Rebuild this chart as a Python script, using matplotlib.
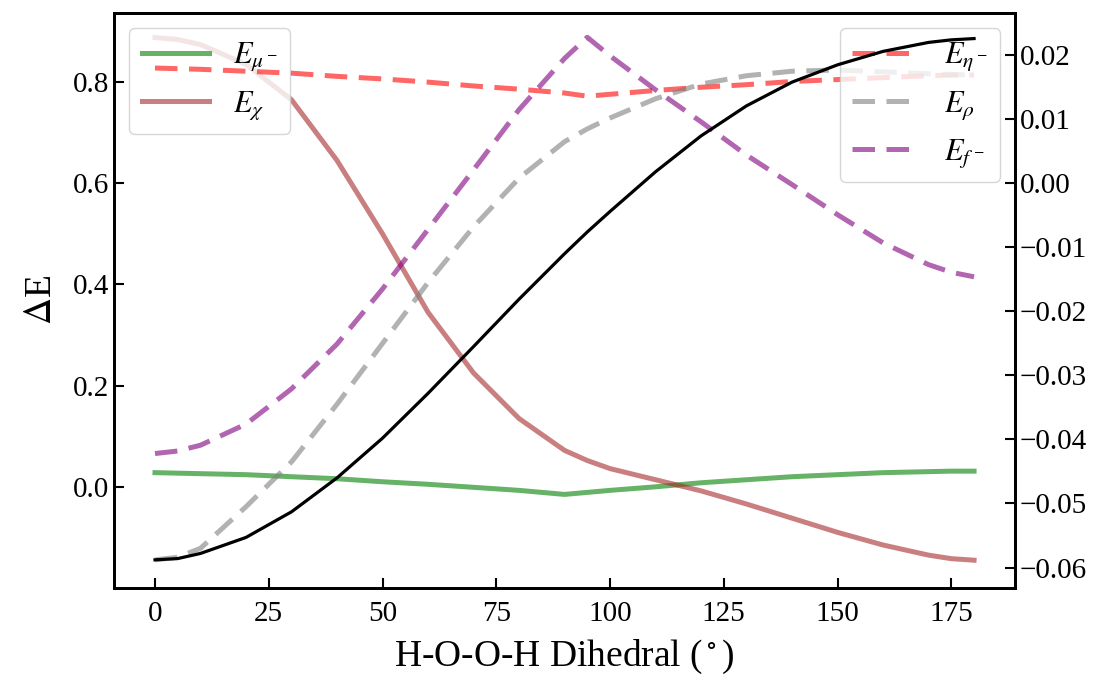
import matplotlib
matplotlib.use("Agg")
import matplotlib.pyplot as plt

plt.rcParams['font.family'] = ['Liberation Serif', 'DejaVu Serif']
plt.rcParams['mathtext.fontset'] = 'stix'

dihedral = [0, 5, 10, 20, 30, 40, 50, 60, 70, 80, 90, 95, 100, 110, 120, 130, 140, 150, 160, 170, 175, 180]

# left axis series
e_mu = [0.028, 0.027, 0.026, 0.024, 0.020, 0.016, 0.010, 0.005, -0.001, -0.007, -0.015, -0.011,
        -0.007, 0.000, 0.008, 0.014, 0.020, 0.024, 0.028, 0.030, 0.031, 0.031]
e_chi = [0.888, 0.884, 0.874, 0.835, 0.765, 0.645, 0.500, 0.345, 0.225, 0.135, 0.072, 0.052,
         0.036, 0.014, -0.008, -0.034, -0.062, -0.090, -0.115, -0.135, -0.142, -0.145]

# right axis series
e_eta = [0.0180, 0.0179, 0.0178, 0.0175, 0.0172, 0.0167, 0.0163, 0.0158, 0.0152, 0.0147, 0.0141, 0.0136,
         0.0139, 0.0145, 0.0150, 0.0154, 0.0159, 0.0162, 0.0165, 0.0168, 0.0169, 0.0169]
e_rho = [-0.0588, -0.0584, -0.0570, -0.0505, -0.0435, -0.0345, -0.0250, -0.0155, -0.0068, 0.0008, 0.0065, 0.0085,
         0.0102, 0.0132, 0.0155, 0.0168, 0.0175, 0.0177, 0.0174, 0.0171, 0.0170, 0.0169]
e_f = [-0.0422, -0.0418, -0.0409, -0.0376, -0.0321, -0.0251, -0.0165, -0.0072, 0.0021, 0.0115, 0.0195, 0.0228,
       0.0199, 0.0146, 0.0096, 0.0044, -0.0002, -0.0049, -0.0093, -0.0127, -0.0139, -0.0146]
total = [-0.0588, -0.0586, -0.0578, -0.0553, -0.0513, -0.0460, -0.0398, -0.0328, -0.0255, -0.0181, -0.0110, -0.0076,
         -0.0044, 0.0018, 0.0074, 0.0121, 0.0158, 0.0185, 0.0206, 0.0220, 0.0224, 0.0226]

fig = plt.figure(figsize=(11.04, 6.82), dpi=100)
ax1 = fig.add_axes([0.1033, 0.1378, 0.8161, 0.8432])
ax2 = ax1.twinx()

lw = 3.6
dash = (4.5, 2.3)
ax1.plot(dihedral, e_mu, color='green', alpha=0.6, lw=lw, label=r'$E_{\mu^-}$')
ax1.plot(dihedral, e_chi, color='brown', alpha=0.6, lw=lw, label=r'$E_{\chi}$')

ax2.plot(dihedral, e_eta, color='red', alpha=0.6, lw=lw, ls='--', dashes=dash, label=r'$E_{\eta^-}$')
ax2.plot(dihedral, e_rho, color='gray', alpha=0.6, lw=lw, ls='--', dashes=dash, label=r'$E_{\rho}$')
ax2.plot(dihedral, e_f, color='purple', alpha=0.6, lw=lw, ls='--', dashes=dash, label=r'$E_{f^-}$')
ax2.plot(dihedral, total, color='black', lw=2.3, zorder=6)

ax1.set_xlim(-9, 189)
ax1.set_ylim(-0.2, 0.9365)
ax2.set_ylim(-0.0632, 0.0266)

for ax in (ax1, ax2):
    ax.tick_params(direction='in', length=7, width=1.5, labelsize=21)
    for s in ax.spines.values():
        s.set_linewidth(2)
ax1.tick_params(axis='x', pad=9)
ax1.set_xticks([0, 25, 50, 75, 100, 125, 150, 175])
ax1.set_yticks([0.0, 0.2, 0.4, 0.6, 0.8])
ax2.set_yticks([-0.06, -0.05, -0.04, -0.03, -0.02, -0.01, 0.0, 0.01, 0.02])

ax1.set_xlabel(r'H-O-O-H Dihedral ($^\circ$)', fontsize=27, labelpad=8)
ax1.set_ylabel(r'$\Delta$E', fontsize=27, labelpad=10)

ax1.legend(loc='upper left', fontsize=22, handlelength=2.2)
ax2.legend(loc='upper right', fontsize=22, handlelength=2.2)

fig.savefig('out.png', dpi=100)
